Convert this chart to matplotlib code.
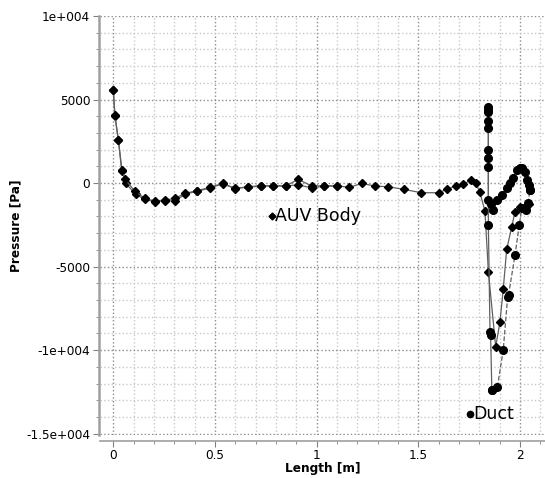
import numpy as np
import matplotlib.pyplot as plt
from matplotlib.ticker import MultipleLocator

# AUV body, upper side (diamonds)
body_up_x = [0.0, 0.008, 0.025, 0.041, 0.058, 0.107, 0.156, 0.205, 0.254, 0.303, 0.353, 0.41,
             0.476, 0.538, 0.599, 0.664, 0.726, 0.787, 0.849, 0.91, 0.976, 1.036, 1.099, 1.161,
             1.223, 1.287, 1.35, 1.43, 1.514, 1.6, 1.64, 1.686, 1.722, 1.761, 1.783, 1.802, 1.828,
             1.845, 1.881, 1.902, 1.918, 1.935, 1.96, 1.976, 2.0, 2.03, 2.045]
body_up_y = [5569, 4072, 2575, 778, 220, -500, -916, -1078, -1018, -916, -617, -461,
             -257, -20, -317, -220, -160, -160, -160, 220, -180, -160, -160, -257,
             -20, -180, -220, -377, -578, -578, -377, -160, -40, 160, 0, -520, -1657,
             -5310, -9800, -8305, -6365, -3970, -2617, -1717, -1450, -1350, -1250]

# AUV body, lower side (diamonds)
body_lo_x = [0.0, 0.008, 0.025, 0.043, 0.062, 0.11, 0.156, 0.205, 0.254, 0.303, 0.353, 0.41,
             0.476, 0.538, 0.599, 0.664, 0.726, 0.787, 0.849, 0.91, 0.976, 1.036, 1.099]
body_lo_y = [5569, 3990, 2575, 740, -20, -680, -980, -1120, -1050, -1078, -660, -500,
             -290, -40, -330, -240, -180, -180, -180, -100, -300, -180, -180]

# Duct, outer side (circles)
duct_out_x = [2.05, 2.046, 2.036, 2.025, 2.012, 2.0, 1.984, 1.968, 1.952, 1.935, 1.91, 1.886,
              1.868, 1.858, 1.845, 1.845, 1.845, 1.845, 1.845, 1.845, 1.845, 1.845, 1.845,
              1.845, 1.853, 1.856, 1.862]
duct_out_y = [-400, -120, 180, 677, 900, 880, 780, 280, 20, -317, -718, -1018,
              -1610, -1250, -1018, 976, 1480, 1976, 3275, 3730, 4270, 4570, 4400,
              -2515, -8900, -9100, -12395]

# Duct, inner side (circles)
duct_in_x = [1.862, 1.889, 1.918, 1.94, 1.944, 1.976, 1.997, 2.009, 2.03, 2.04, 2.05]
duct_in_y = [-12395, -12234, -10000, -6800, -6707, -4311, -2510, -1517, -1617, -1217, -400]

xticks = [0, 0.5, 1, 1.5, 2]
xtick_labels = ['0', '0.5', '1', '1.5', '2']
yticks = [-15000, -10000, -5000, 0, 5000, 10000]
ytick_labels = ['-1.5e+004', '-1e+004', '-5000', '0', '5000', '1e+004']

fig = plt.figure(figsize=(5.45, 4.78), dpi=100)
ax = fig.add_axes([100 / 545, (478 - 435) / 478, 445 / 545, 419.5 / 478])

line_c = '#606060'
ax.plot(body_lo_x, body_lo_y, '-', color=line_c, lw=0.9, marker='D', ms=4.5, mfc='black', mec='black', zorder=3)
ax.plot(body_up_x, body_up_y, '-', color=line_c, lw=0.9, marker='D', ms=4.5, mfc='black', mec='black', zorder=3)
ax.plot(duct_out_x, duct_out_y, '-', color=line_c, lw=0.9, marker='o', ms=5.5, mfc='black', mec='black', zorder=3)
ax.plot(duct_in_x, duct_in_y, '--', color=line_c, lw=0.9, marker='o', ms=5.5, mfc='black', mec='black', zorder=3)

# series labels
ax.plot([0.78], [-1960], 'D', color='black', ms=3.5)
ax.text(0.795, -1960, 'AUV Body', fontsize=12.5, va='center', ha='left')
ax.plot([1.755], [-13810], 'o', color='black', ms=4.5)
ax.text(1.77, -13810, 'Duct', fontsize=12.5, va='center', ha='left')

ax.set_xlim(-0.0654, 2.1235)
ax.set_ylim(-15080, 10030)
ax.set_xticks(xticks)
ax.set_xticklabels(xtick_labels)
ax.set_yticks(yticks)
ax.set_yticklabels(ytick_labels)
ax.xaxis.set_minor_locator(MultipleLocator(0.1))
ax.yaxis.set_minor_locator(MultipleLocator(1000))

ax.grid(which='major', linestyle=':', color='#8c8c8c', lw=1)
ax.grid(which='minor', linestyle=':', color='#c8c8c8', lw=1)
ax.set_axisbelow(True)

for s in ['top', 'right']:
    ax.spines[s].set_visible(False)
ax.spines['left'].set_color('#a0a0a0')
ax.spines['left'].set_linewidth(1.8)
ax.spines['left'].set_position(('outward', 1))
ax.spines['bottom'].set_color('#a0a0a0')
ax.spines['bottom'].set_linewidth(1.2)
ax.spines['bottom'].set_position(('outward', 4))

ax.tick_params(which='major', length=4, color='#808080', labelsize=8.7, pad=2)
ax.tick_params(which='minor', length=2.5, color='#808080')
ax.tick_params(axis='x', pad=2)

ax.set_xlabel('Length [m]', fontsize=8.7, fontweight='bold', labelpad=0)
ax.set_ylabel('Pressure [Pa]', fontsize=8.7, fontweight='bold', labelpad=3)

fig.savefig('out.png', dpi=100)
